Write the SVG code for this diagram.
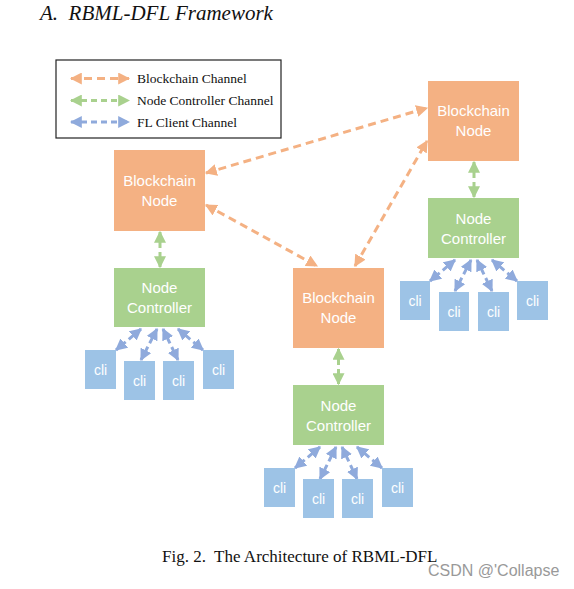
<svg xmlns="http://www.w3.org/2000/svg" width="574" height="589" viewBox="0 0 574 589">
<style>
.bn{fill:#F4B183}
.nc{fill:#A9D18E}
.cl{fill:#9DC3E6}
.nt{font-family:"Liberation Sans",Arial,sans-serif;font-size:15px;fill:#fff;text-anchor:middle}
.ct{font-family:"Liberation Sans",Arial,sans-serif;font-size:14px;fill:#fff;text-anchor:middle}
.ser{font-family:"Liberation Serif","Times New Roman",serif;fill:#111}
.o{stroke:#F4B183;stroke-width:3;stroke-dasharray:8 5;fill:none;marker-start:url(#ao);marker-end:url(#ao)}
.g{stroke:#A9D18E;stroke-width:3;stroke-dasharray:6 4;fill:none;marker-start:url(#ag);marker-end:url(#ag)}
.b{stroke:#8FAADC;stroke-width:3;stroke-dasharray:6 4;fill:none;marker-start:url(#ab);marker-end:url(#ab)}
</style>
<defs>
<marker id="ao" viewBox="0 0 10 10" refX="9" refY="5" markerWidth="4" markerHeight="4" orient="auto-start-reverse"><path d="M0,0 L10,5 L0,10 z" fill="#F4B183"/></marker>
<marker id="ag" viewBox="0 0 10 10" refX="9" refY="5" markerWidth="4" markerHeight="4" orient="auto-start-reverse"><path d="M0,0 L10,5 L0,10 z" fill="#A9D18E"/></marker>
<marker id="ab" viewBox="0 0 10 10" refX="9" refY="5" markerWidth="4" markerHeight="4" orient="auto-start-reverse"><path d="M0,0 L10,5 L0,10 z" fill="#8FAADC"/></marker>
</defs>
<rect width="574" height="589" fill="#fff"/>
<text class="ser" x="40" y="20" font-size="21" font-style="italic" xml:space="preserve">A.  RBML-DFL Framework</text>

<g id="legend">
<rect x="56" y="60" width="225" height="78" fill="#fff" stroke="#222" stroke-width="1.2"/>
<line class="o" x1="71" y1="78.5" x2="129" y2="78.5"/>
<line class="g" x1="71" y1="100.5" x2="129" y2="100.5"/>
<line class="b" x1="71" y1="122" x2="129" y2="122"/>
<text class="ser" x="137" y="83" font-size="13.5">Blockchain Channel</text>
<text class="ser" x="137" y="105" font-size="13.5">Node Controller Channel</text>
<text class="ser" x="137" y="126.5" font-size="13.5">FL Client Channel</text>
</g>

<g id="connectors">
<line class="o" x1="206" y1="173" x2="427" y2="108"/>
<line class="o" x1="206" y1="205" x2="317" y2="266"/>
<line class="o" x1="355" y1="266" x2="427" y2="141"/>
<line class="g" x1="160" y1="232" x2="160" y2="267"/>
<line class="g" x1="474" y1="162" x2="474" y2="197"/>
<line class="g" x1="338.5" y1="349" x2="338.5" y2="384"/>
<line class="b" x1="141" y1="329" x2="116" y2="350"/>
<line class="b" x1="157" y1="329" x2="141" y2="360"/>
<line class="b" x1="163" y1="329" x2="178" y2="360"/>
<line class="b" x1="178" y1="329" x2="203" y2="350"/>
<line class="b" x1="455" y1="260" x2="430" y2="281"/>
<line class="b" x1="471" y1="260" x2="455" y2="291"/>
<line class="b" x1="477" y1="260" x2="492" y2="291"/>
<line class="b" x1="492" y1="260" x2="517" y2="281"/>
<line class="b" x1="320" y1="447" x2="295" y2="468"/>
<line class="b" x1="336" y1="447" x2="320" y2="479"/>
<line class="b" x1="342" y1="447" x2="357" y2="479"/>
<line class="b" x1="357" y1="447" x2="382" y2="468"/>
</g>

<g id="bn-left"><rect class="bn" x="114" y="150" width="91" height="81"/><text class="nt" x="159.5" y="186">Blockchain</text><text class="nt" x="159.5" y="206">Node</text></g>
<g id="nc-left"><rect class="nc" x="114" y="268" width="91" height="59"/><text class="nt" x="159.5" y="293">Node</text><text class="nt" x="159.5" y="313">Controller</text></g>
<g id="cli-l1"><rect class="cl" x="85" y="350" width="31" height="39"/><text class="ct" x="100.5" y="375">cli</text></g>
<g id="cli-l2"><rect class="cl" x="124" y="361" width="31" height="39"/><text class="ct" x="139.5" y="386">cli</text></g>
<g id="cli-l3"><rect class="cl" x="163" y="361" width="31" height="39"/><text class="ct" x="178.5" y="386">cli</text></g>
<g id="cli-l4"><rect class="cl" x="203" y="350" width="31" height="39"/><text class="ct" x="218.5" y="375">cli</text></g>

<g id="bn-right"><rect class="bn" x="428" y="81" width="91" height="80"/><text class="nt" x="473.5" y="116">Blockchain</text><text class="nt" x="473.5" y="136">Node</text></g>
<g id="nc-right"><rect class="nc" x="428" y="198" width="91" height="60"/><text class="nt" x="473.5" y="224">Node</text><text class="nt" x="473.5" y="244">Controller</text></g>
<g id="cli-r1"><rect class="cl" x="400" y="281" width="30" height="39"/><text class="ct" x="415" y="306">cli</text></g>
<g id="cli-r2"><rect class="cl" x="439" y="292" width="30" height="39"/><text class="ct" x="454" y="317">cli</text></g>
<g id="cli-r3"><rect class="cl" x="478" y="292" width="31" height="39"/><text class="ct" x="493.5" y="317">cli</text></g>
<g id="cli-r4"><rect class="cl" x="517" y="281" width="31" height="39"/><text class="ct" x="532.5" y="306">cli</text></g>

<g id="bn-mid"><rect class="bn" x="293" y="268" width="91" height="80"/><text class="nt" x="338.5" y="303">Blockchain</text><text class="nt" x="338.5" y="323">Node</text></g>
<g id="nc-mid"><rect class="nc" x="293" y="385" width="91" height="60"/><text class="nt" x="338.5" y="411">Node</text><text class="nt" x="338.5" y="431">Controller</text></g>
<g id="cli-m1"><rect class="cl" x="264" y="468" width="31" height="39"/><text class="ct" x="279.5" y="493">cli</text></g>
<g id="cli-m2"><rect class="cl" x="303" y="479" width="31" height="39"/><text class="ct" x="318.5" y="504">cli</text></g>
<g id="cli-m3"><rect class="cl" x="342" y="479" width="31" height="39"/><text class="ct" x="357.5" y="504">cli</text></g>
<g id="cli-m4"><rect class="cl" x="382" y="468" width="31" height="39"/><text class="ct" x="397.5" y="493">cli</text></g>

<text class="ser" x="162" y="561.5" font-size="17" xml:space="preserve">Fig. 2.  The Architecture of RBML-DFL</text>
<text x="428" y="576" font-family="'Liberation Sans',Arial,sans-serif" font-size="16" fill="#999">CSDN @'Collapse</text>
</svg>
